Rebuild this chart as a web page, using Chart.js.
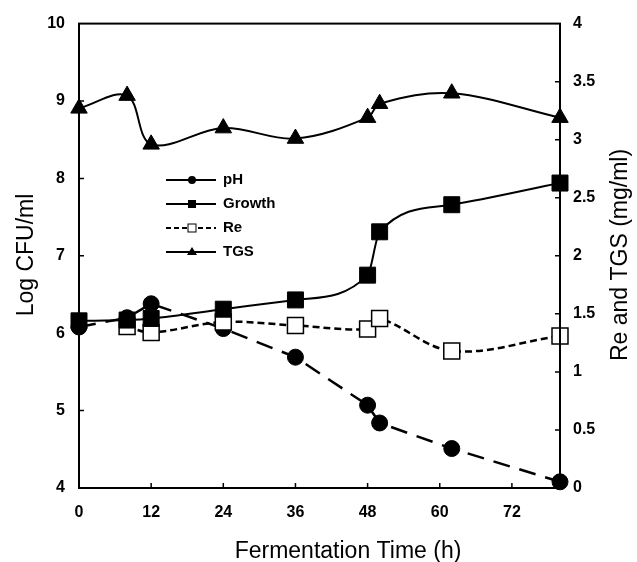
<!DOCTYPE html>
<html>
<head>
<meta charset="utf-8">
<script src="https://cdn.jsdelivr.net/npm/chart.js@4"></script>
<style>
  html, body { margin: 0; padding: 0; background: #fff; }
  canvas { display: block; }
</style>
</head>
<body>
<canvas id="c" width="637" height="562"></canvas>
<script>
// ---- data ----
const timeH   = [0, 8, 12, 24, 36, 48, 50, 62, 80];
const pHVals  = [6.08, 6.20, 6.38, 6.06, 5.69, 5.07, 4.84, 4.51, 4.08];
const growth  = [6.16, 6.17, 6.19, 6.31, 6.43, 6.75, 7.31, 7.66, 7.94];
const reVals  = [null, 1.39, 1.34, 1.43, 1.40, 1.37, 1.46, 1.18, 1.31];
const tgsVals = [3.27, 3.38, 2.96, 3.10, 3.01, 3.19, 3.31, 3.40, 3.19];
const xTicks     = [0, 12, 24, 36, 48, 60, 72];
const leftTicks  = [4, 5, 6, 7, 8, 9, 10];
const rightTicks = [0, 0.5, 1, 1.5, 2, 2.5, 3, 3.5, 4];
const seriesNames = ['pH', 'Growth', 'Re', 'TGS'];
const xTitle = 'Fermentation Time (h)';
const yLeftTitle = 'Log CFU/ml';
const yRightTitle = 'Re and TGS (mg/ml)';

const pts = (ys) => timeH.map((x, i) => ({ x: x, y: ys[i] }));
const TICK_FONT = { family: 'Liberation Sans, Arial, sans-serif', size: 16, weight: 'bold' };
const FONT_FAM = 'Liberation Sans, Arial, sans-serif';

const decorPlugin = {
  id: 'decor',
  afterDraw(chart) {
    const ctx = chart.ctx;
    const a = chart.chartArea;
    const sx = chart.scales.x, sl = chart.scales.yL, sr = chart.scales.yR;
    ctx.save();
    ctx.strokeStyle = '#000';
    ctx.lineWidth = 2;
    ctx.strokeRect(a.left, a.top, a.right - a.left, a.bottom - a.top);
    ctx.lineWidth = 1.5;
    ctx.beginPath();
    xTicks.forEach(v => {
      if (v === 0) return;
      const px = sx.getPixelForValue(v);
      ctx.moveTo(px, a.bottom); ctx.lineTo(px, a.bottom - 5);
    });
    leftTicks.forEach(v => {
      if (v === leftTicks[0] || v === leftTicks[leftTicks.length - 1]) return;
      const py = sl.getPixelForValue(v);
      ctx.moveTo(a.left, py); ctx.lineTo(a.left + 5, py);
    });
    rightTicks.forEach(v => {
      if (v === rightTicks[0] || v === rightTicks[rightTicks.length - 1]) return;
      const py = sr.getPixelForValue(v);
      ctx.moveTo(a.right, py); ctx.lineTo(a.right - 5, py);
    });
    ctx.stroke();

    ctx.fillStyle = '#000';
    ctx.font = '23px ' + FONT_FAM;
    ctx.textAlign = 'center';
    ctx.textBaseline = 'alphabetic';
    ctx.fillText(xTitle, 348, 558);
    ctx.save();
    ctx.translate(33, 255);
    ctx.rotate(-Math.PI / 2);
    ctx.fillText(yLeftTitle, 0, 0);
    ctx.restore();
    ctx.save();
    ctx.translate(627, 255);
    ctx.rotate(-Math.PI / 2);
    ctx.fillText(yRightTitle, 0, 0);
    ctx.restore();

    const lx0 = 166, lx1 = 216, mx = 192, tx = 223;
    const rows = [180, 204, 228, 252];
    ctx.font = 'bold 15px ' + FONT_FAM;
    ctx.textAlign = 'left';
    ctx.textBaseline = 'middle';
    rows.forEach((y, i) => {
      ctx.lineWidth = 2;
      ctx.strokeStyle = '#000';
      ctx.setLineDash(i === 2 ? [5, 3] : []);
      ctx.beginPath();
      ctx.moveTo(lx0, y); ctx.lineTo(lx1, y);
      ctx.stroke();
      ctx.setLineDash([]);
      ctx.fillStyle = '#000';
      if (i === 0) {
        ctx.beginPath(); ctx.arc(mx, y, 4, 0, Math.PI * 2); ctx.fill();
      } else if (i === 1) {
        ctx.fillRect(mx - 4, y - 4, 8, 8);
      } else if (i === 2) {
        ctx.fillStyle = '#fff';
        ctx.fillRect(mx - 4, y - 4, 8, 8);
        ctx.lineWidth = 1;
        ctx.strokeRect(mx - 4, y - 4, 8, 8);
      } else {
        ctx.beginPath();
        ctx.moveTo(mx, y - 5); ctx.lineTo(mx + 5, y + 3); ctx.lineTo(mx - 5, y + 3);
        ctx.closePath(); ctx.fill();
      }
      ctx.fillStyle = '#000';
      ctx.fillText(seriesNames[i], tx, y);
    });
    ctx.restore();
  }
};

new Chart(document.getElementById('c'), {
  type: 'line',
  data: {
    datasets: [
      {
        label: seriesNames[0], data: pts(pHVals), yAxisID: 'yL', order: 4, clip: false,
        borderColor: '#000', borderWidth: 2.5, borderDash: [17, 10], tension: 0,
        pointStyle: 'circle', pointRadius: 8, pointBackgroundColor: '#000', pointBorderColor: '#000', pointBorderWidth: 1
      },
      {
        label: seriesNames[1], data: pts(growth), yAxisID: 'yL', order: 2, clip: false,
        borderColor: '#000', borderWidth: 2, cubicInterpolationMode: 'monotone',
        pointStyle: 'rect', pointRadius: 11.3, pointBackgroundColor: '#000', pointBorderColor: '#000', pointBorderWidth: 1
      },
      {
        label: seriesNames[2], data: pts(reVals), yAxisID: 'yR', order: 3, clip: false,
        borderColor: '#000', borderWidth: 2.5, borderDash: [7, 4], tension: 0.35,
        pointStyle: 'rect', pointRadius: 11.3, pointBackgroundColor: '#fff', pointBorderColor: '#000', pointBorderWidth: 1.5
      },
      {
        label: seriesNames[3], data: pts(tgsVals), yAxisID: 'yR', order: 1, clip: false,
        borderColor: '#000', borderWidth: 2, tension: 0.35,
        pointStyle: 'triangle', pointRadius: 9.5, pointBackgroundColor: '#000', pointBorderColor: '#000', pointBorderWidth: 1
      }
    ]
  },
  options: {
    responsive: false,
    animation: false,
    devicePixelRatio: 1,
    layout: { padding: { top: 19, left: 0, right: 0, bottom: 0 } },
    plugins: { legend: { display: false }, tooltip: { enabled: false } },
    scales: {
      x: {
        type: 'linear', min: 0, max: 80,
        grid: { display: false, drawTicks: false },
        border: { display: true, color: '#000', width: 2 },
        afterBuildTicks: (s) => { s.ticks = xTicks.map(v => ({ value: v })); },
        afterFit: (s) => { s.height = 74; },
        ticks: { font: TICK_FONT, color: '#000', padding: 15, maxRotation: 0, autoSkip: false }
      },
      yL: {
        type: 'linear', position: 'left', min: 4, max: 10,
        grid: { display: false, drawTicks: false },
        border: { display: true, color: '#000', width: 2 },
        afterBuildTicks: (s) => { s.ticks = leftTicks.map(v => ({ value: v })); },
        afterFit: (s) => { s.width = 79; },
        ticks: { font: TICK_FONT, color: '#000', padding: 14 }
      },
      yR: {
        type: 'linear', position: 'right', min: 0, max: 4,
        grid: { display: false, drawTicks: false },
        border: { display: true, color: '#000', width: 2 },
        afterBuildTicks: (s) => { s.ticks = rightTicks.map(v => ({ value: v })); },
        afterFit: (s) => { s.width = 77; },
        ticks: { font: TICK_FONT, color: '#000', padding: 13, callback: (v) => String(v) }
      }
    }
  },
  plugins: [decorPlugin]
});
</script>
</body>
</html>
